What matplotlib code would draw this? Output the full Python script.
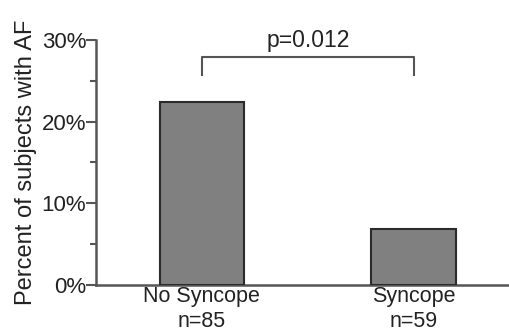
import matplotlib.pyplot as plt
from matplotlib.ticker import MultipleLocator, PercentFormatter

# data
groups = ["No Syncope\nn=85", "Syncope\nn=59"]
af_pct = [22.4, 6.8]
p_label = "p=0.012"

plt.rcParams['font.family'] = ['Liberation Sans', 'DejaVu Sans']

fig = plt.figure(figsize=(5.09, 3.32), dpi=100)
ax = fig.add_axes([0.1886, 0.1416, 0.8114, 0.7379])

x = range(len(groups))
ax.bar(x, af_pct, width=0.4, color='#808080', edgecolor='#2b2b2b', linewidth=1.5, zorder=3)

ax.set_xlim(-0.5, 1.45)
ax.set_ylim(0, 30)
ax.set_xticks(list(x))
ax.set_xticklabels(groups, fontsize=15.5, color='#222222', linespacing=1.25)
ax.yaxis.set_major_locator(MultipleLocator(10))
ax.yaxis.set_minor_locator(MultipleLocator(5))
ax.yaxis.set_major_formatter(PercentFormatter(decimals=0))
ax.tick_params(axis='y', which='major', length=7, width=1.5, color='#555555', labelsize=16, labelcolor='#222222', pad=0)
ax.tick_params(axis='y', which='minor', length=4, width=1.5, color='#555555')
ax.tick_params(axis='x', length=0, pad=1)
ax.set_ylabel("Percent of subjects with AF", fontsize=17, color='#222222', labelpad=3)

for side in ['top', 'right']:
    ax.spines[side].set_visible(False)
for side in ['left', 'bottom']:
    ax.spines[side].set_linewidth(1.8)
    ax.spines[side].set_color('#555555')

# significance bracket
ax.plot([0, 0, 1, 1], [25.7, 27.9, 27.9, 25.7], color='#555555', linewidth=1.5, clip_on=False)
ax.text(0.5, 29.1, p_label, ha='center', va='baseline', fontsize=16.5, color='#222222')

fig.savefig('out.png', dpi=100)
